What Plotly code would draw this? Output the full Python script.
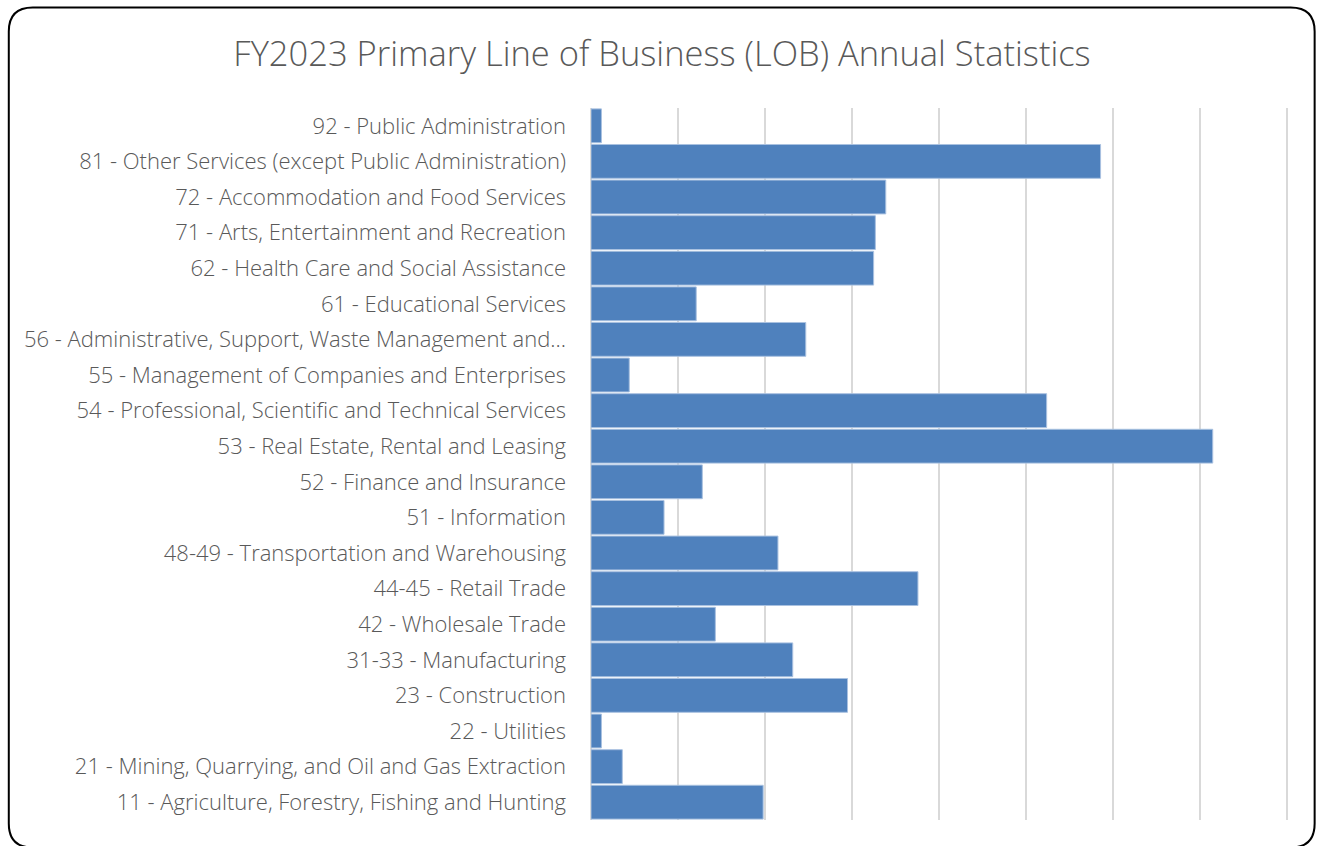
import plotly.graph_objects as go

categories = [
    "11 - Agriculture, Forestry, Fishing and Hunting",
    "21 - Mining, Quarrying, and Oil and Gas Extraction",
    "22 - Utilities",
    "23 - Construction",
    "31-33 - Manufacturing",
    "42 - Wholesale Trade",
    "44-45 - Retail Trade",
    "48-49 - Transportation and Warehousing",
    "51 - Information",
    "52 - Finance and Insurance",
    "53 - Real Estate, Rental and Leasing",
    "54 - Professional, Scientific and Technical Services",
    "55 - Management of Companies and Enterprises",
    "56 - Administrative, Support, Waste Management and\u2026",
    "61 - Educational Services",
    "62 - Health Care and Social Assistance",
    "71 - Arts, Entertainment and Recreation",
    "72 - Accommodation and Food Services",
    "81 - Other Services (except Public Administration)",
    "92 - Public Administration",
]
values = [198, 36, 12, 295, 232, 143, 376, 215, 84, 128, 715, 524, 44, 247, 121, 325, 327, 339, 586, 12]
title_text = "FY2023 Primary Line of Business (LOB) Annual Statistics"

W, H = 1317, 846
XMAX = 805
L, T, B = 591, 108, 820
R = L + XMAX * 0.87  # 100 units = 87 px

fig = go.Figure(go.Bar(
    x=values, y=categories, orientation="h",
    marker=dict(color="#4F81BD", line=dict(color="#A9C1E0", width=1)),
    hoverinfo="x+y",
))

def px(x):
    return (x - L) / (R - L)

def py(y):
    return (B - y) / (B - T)

# rounded border (page pixel coords -> paper coords)
x0, x1, y0, y1, r = 8.5, 1315, 7.5, 847.5, 24
path = (
    f"M {px(x0+r)},{py(y0)} L {px(x1-r)},{py(y0)} "
    f"Q {px(x1)},{py(y0)} {px(x1)},{py(y0+r)} "
    f"L {px(x1)},{py(y1-r)} Q {px(x1)},{py(y1)} {px(x1-r)},{py(y1)} "
    f"L {px(x0+r)},{py(y1)} Q {px(x0)},{py(y1)} {px(x0)},{py(y1-r)} "
    f"L {px(x0)},{py(y0+r)} Q {px(x0)},{py(y0)} {px(x0+r)},{py(y0)} Z"
)

fig.update_layout(
    width=W, height=H,
    margin=dict(l=L, r=W - R, t=T, b=H - B, pad=0),
    paper_bgcolor="white", plot_bgcolor="white",
    bargap=0.05,
    showlegend=False,
    title=dict(text=title_text, x=662 / W, xanchor="center", xref="container",
               y=1 - 54 / H, yanchor="middle", yref="container",
               font=dict(family="Open Sans", size=34.5, color="#595959", weight=300)),
    xaxis=dict(range=[0, XMAX], dtick=100, showticklabels=False,
               showgrid=True, gridcolor="#D9D9D9", gridwidth=1.5,
               zeroline=True, zerolinecolor="#D9D9D9", zerolinewidth=1.5,
               ticks="", showline=False, fixedrange=True),
    yaxis=dict(categoryorder="array", categoryarray=categories,
               tickfont=dict(family="Open Sans", size=22, color="#595959", weight=300),
               ticks="", showline=False, ticklabelstandoff=24, fixedrange=True),
    shapes=[dict(type="path", path=path, xref="paper", yref="paper",
                 line=dict(color="black", width=2), layer="above")],
    font=dict(family="Open Sans"),
)

fig.write_html(
    "out.html",
    config={"displayModeBar": False},
    post_script="document.body.style.margin='0';document.body.style.overflow='hidden';",
)
